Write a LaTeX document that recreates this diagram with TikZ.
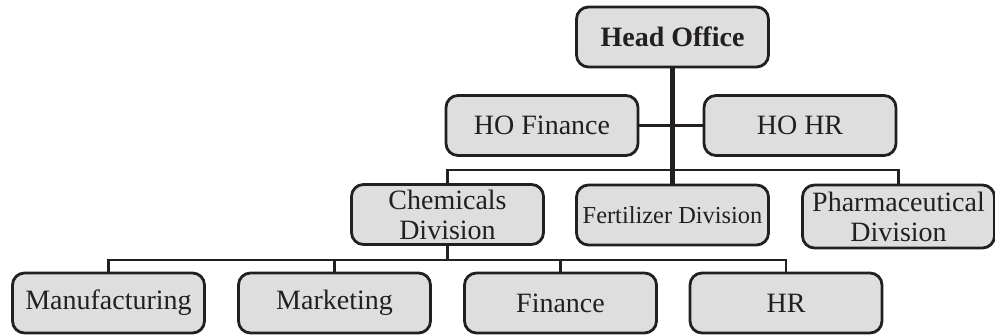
\documentclass[tikz,border=0pt]{standalone}
\usepackage{fontspec}
\setmainfont{Liberation Serif}
\definecolor{boxfill}{HTML}{DEDEDE}
\definecolor{ink}{HTML}{231F20}
\begin{document}
\begin{tikzpicture}[x=0.5pt,y=-0.5pt,
  unit/.style={draw=ink, fill=boxfill, line width=1.4pt, rounded corners=6pt,
    minimum width=96pt, minimum height=30pt, inner sep=1pt, align=center,
    text=ink, font=\fontsize{14pt}{15pt}\selectfont},
  trunk/.style={draw=ink, line width=2.1pt},
  branch/.style={draw=ink, line width=1.2pt}]
\useasboundingbox (0,0) rectangle (995,335);

% head office and its staff functions
\node[unit, font=\fontsize{14pt}{15pt}\selectfont\bfseries] (head) at (672.5,37) {Head Office};
\node[unit] (hofin) at (542,125.5) {HO Finance};
\node[unit] (hohr)  at (800,125.5) {HO HR};

% divisions
\node[unit] (chem)   at (447.5,214.5) {Chemicals\\Division};
\node[unit, font=\fontsize{12.2pt}{14pt}\selectfont] (fert) at (672.5,215) {Fertilizer Division};
\node[unit, minimum height=31.5pt] (pharma) at (898.5,216.5) {Pharmaceutical\\Division};

% departments of the chemicals division
\node[unit] (manuf) at (108.5,303) {Manufacturing};
\node[unit] (mkt)   at (334.5,303) {Marketing};
\node[unit] (fin)   at (560.5,303) {Finance};
\node[unit] (hr)    at (786,303)   {HR};

% main line of authority
\coordinate (bus1) at (0,170);
\coordinate (bus2) at (0,260);
\draw[trunk] (head.south) -- (fert.north);
\draw[trunk, line width=1.8pt] (hofin.east) -- (hohr.west);

% division bus
\draw[branch] (chem.north) |- (bus1 -| pharma.north) -- (pharma.north);

% department bus
\draw[branch] (chem.south) -- (bus2 -| chem.south);
\draw[branch] (manuf.north) |- (bus2 -| hr.north) -- (hr.north);
\draw[branch] (mkt.north) -- (bus2 -| mkt.north);
\draw[branch] (fin.north) -- (bus2 -| fin.north);
\end{tikzpicture}
\end{document}
